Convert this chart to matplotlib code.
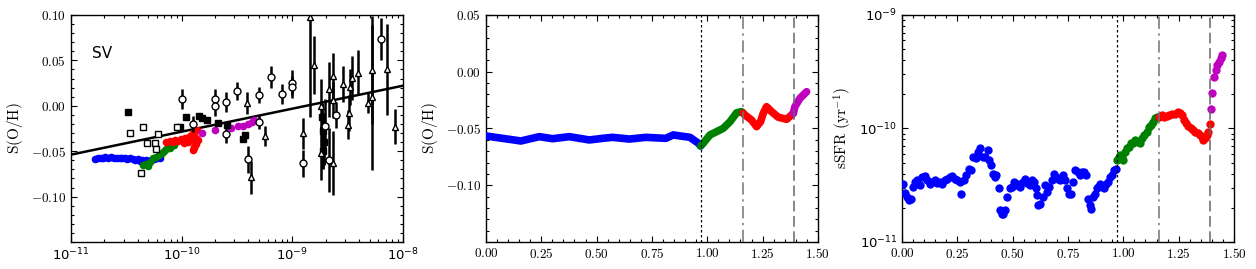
import numpy as np
import matplotlib
matplotlib.use("Agg")
import matplotlib.pyplot as plt
from matplotlib.ticker import FuncFormatter, AutoMinorLocator, LogLocator

plt.rcParams.update({
    "mathtext.fontset": "cm",
    "font.size": 9,
    "xtick.direction": "in", "ytick.direction": "in",
    "xtick.top": True, "ytick.right": True,
    "xtick.major.size": 4, "ytick.major.size": 4,
    "xtick.minor.size": 2, "ytick.minor.size": 2,
    "axes.linewidth": 1.0,
})

# ---- time track: sSFR (units of 1e-11 /yr) per phase ----
t_blue = [0.005, 0.012, 0.023, 0.032, 0.042, 0.050, 0.060, 0.069, 0.080, 0.092,
          0.102, 0.113, 0.125, 0.137, 0.147, 0.159, 0.170, 0.182, 0.192, 0.204,
          0.215, 0.227, 0.237, 0.248, 0.260, 0.268, 0.278, 0.290, 0.302, 0.313,
          0.320, 0.332, 0.343, 0.353, 0.365, 0.376, 0.388, 0.395, 0.403, 0.410,
          0.418, 0.425, 0.436, 0.443, 0.451, 0.458, 0.467, 0.475, 0.486, 0.496,
          0.505, 0.516, 0.526, 0.535, 0.546, 0.556, 0.565, 0.576, 0.586, 0.595,
          0.603, 0.610, 0.616, 0.625, 0.636, 0.646, 0.655, 0.666, 0.676, 0.685,
          0.696, 0.706, 0.715, 0.726, 0.737, 0.746, 0.753, 0.764, 0.774, 0.783,
          0.794, 0.804, 0.813, 0.821, 0.831, 0.842, 0.849, 0.854, 0.861, 0.872,
          0.879, 0.887, 0.896, 0.906, 0.914, 0.921, 0.929, 0.939, 0.948, 0.959,
          0.966]
s_blue = [3.27, 2.71, 2.49, 2.33, 2.41, 3.06, 3.38, 3.50, 3.16, 3.75,
          3.80, 3.50, 3.27, 3.38, 3.50, 3.32, 3.38, 3.27, 3.50, 3.62,
          3.75, 3.80, 3.62, 3.50, 3.38, 2.67, 3.50, 3.88, 4.44, 4.29,
          5.62, 5.44, 6.22, 6.67, 5.62, 5.62, 6.44, 5.33, 4.75, 4.01,
          3.75, 3.88, 2.96, 1.90, 1.78, 1.78, 1.90, 2.49, 2.96, 3.06,
          3.38, 3.16, 3.27, 3.06, 3.38, 3.62, 3.32, 3.16, 3.50, 3.38,
          2.96, 2.58, 2.11, 2.18, 2.49, 3.16, 2.76, 3.06, 3.50, 4.01,
          3.75, 3.62, 3.50, 3.88, 3.50, 2.96, 2.67, 2.67, 3.38, 4.29,
          4.15, 3.88, 4.15, 4.15, 3.88, 2.41, 2.11, 1.97, 2.49, 2.67,
          2.96, 3.06, 3.27, 3.06, 2.96, 3.27, 3.38, 3.75, 3.88, 4.29,
          4.44]
t_green = [0.971, 0.979, 0.985, 0.992, 1.000, 1.007, 1.015, 1.024, 1.034, 1.045,
           1.054, 1.064, 1.075, 1.084, 1.094, 1.105, 1.114, 1.124, 1.135, 1.144,
           1.154]
s_green = [5.26, 5.62, 5.82, 5.62, 5.26, 6.22, 6.67, 6.89, 7.38, 7.38,
           7.89, 7.63, 7.38, 8.17, 8.73, 9.35, 10.35, 10.7, 11.46, 12.25,
           12.68]
t_red = [1.162, 1.174, 1.184, 1.195, 1.207, 1.222, 1.234, 1.245, 1.255, 1.267,
         1.275, 1.285, 1.294, 1.305, 1.315, 1.324, 1.335, 1.345, 1.354, 1.362,
         1.369, 1.377, 1.384, 1.390]
s_red = [12.68, 13.12, 12.68, 12.85, 13.12, 13.37, 13.55, 14.03, 13.75, 13.12,
         11.86, 11.07, 10.49, 10.0, 9.66, 9.35, 9.04, 8.73, 8.44, 7.89,
         8.17, 8.73, 9.35, 10.92]
t_mag = [1.395, 1.402, 1.410, 1.417, 1.425, 1.432, 1.440, 1.447]
s_mag = [15.0, 20.4, 28.2, 32.7, 36.2, 38.7, 41.5, 44.4]

# ---- S(O/H) versus time ----
zt_blue = [0.0, 0.075, 0.158, 0.241, 0.301, 0.377, 0.467, 0.527, 0.572, 0.648,
           0.723, 0.813, 0.846, 0.922, 0.96, 0.97]
z_blue = [-0.0566, -0.0587, -0.0610, -0.0572, -0.0590, -0.0572, -0.0601, -0.0587,
          -0.0578, -0.0593, -0.0578, -0.0587, -0.0557, -0.0578, -0.0630, -0.0654]
zt_green = [0.97, 0.982, 1.012, 1.042, 1.072, 1.103, 1.133, 1.155, 1.162]
z_green = [-0.0654, -0.0630, -0.0557, -0.0528, -0.0499, -0.0440, -0.0361, -0.0352,
           -0.0365]
zt_red = [1.162, 1.17, 1.20, 1.223, 1.241, 1.253, 1.268, 1.291, 1.321, 1.359, 1.389]
z_red = [-0.0365, -0.0381, -0.0425, -0.0484, -0.0440, -0.0366, -0.0308, -0.0352,
         -0.0401, -0.0419, -0.0366]
zt_mag = [1.389, 1.396, 1.419, 1.449]
z_mag = [-0.0366, -0.0308, -0.0234, -0.0176]

# phase boundaries
t_lines = [0.97, 1.16, 1.39]

# ---- panel 1: sSFR (1e-11) vs S(O/H) for the model track ----
p1_blue_x = [1.65, 1.75, 1.85, 1.95, 2.05, 2.15, 2.3, 2.45, 2.6, 2.75, 2.9, 3.05,
             3.2, 3.4, 3.6, 3.8, 4.0, 4.2, 4.4, 4.6, 4.8, 5.0, 5.3, 5.6, 6.0, 6.4]
p1_blue_y = [-0.059, -0.058, -0.057, -0.058, -0.056, -0.057, -0.056, -0.057,
             -0.058, -0.057, -0.058, -0.057, -0.059, -0.058, -0.059, -0.060,
             -0.059, -0.061, -0.060, -0.061, -0.060, -0.061, -0.060, -0.059,
             -0.058, -0.057]
p1_green_x = [4.5, 4.8, 5.0, 5.2, 5.5, 5.9, 6.3, 6.6, 7.0, 7.3, 7.8, 8.1, 8.5]
p1_green_y = [-0.065, -0.064, -0.066, -0.062, -0.058, -0.056, -0.054, -0.052,
              -0.050, -0.048, -0.046, -0.044, -0.043]
p1_red_x = [7.3, 7.8, 8.3, 8.8, 9.3, 9.8, 10.3, 10.8, 11.3, 11.8, 12.3, 12.8,
            13.3, 13.8, 13.5, 13.2, 12.9, 12.7, 13.0, 13.6, 14.0, 11.5, 10.5, 12.0]
p1_red_y = [-0.040, -0.039, -0.040, -0.038, -0.039, -0.037, -0.038, -0.036,
            -0.035, -0.033, -0.032, -0.030, -0.028, -0.027, -0.036, -0.040,
            -0.045, -0.049, -0.047, -0.042, -0.038, -0.040, -0.041, -0.038]
p1_mag_x = [15.2, 20.0, 28.0, 32.0, 36.0, 40.0, 43.0, 45.0]
p1_mag_y = [-0.030, -0.027, -0.025, -0.022, -0.022, -0.020, -0.018, -0.016]

# ---- observations ----
fsq_x = [3.3e-11, 9.7e-11, 1.09e-10, 1.44e-10, 1.53e-10, 1.68e-10, 2.14e-10,
         2.58e-10, 3.73e-10, 3.6e-10]
fsq_y = [-0.0065, -0.023, -0.012, -0.0112, -0.0138, -0.0156, -0.0186, -0.021,
         -0.032, -0.037]
fsqe_x = [1.85e-9, 1.9e-9, 1.95e-9, 1.9e-9]
fsqe_y = [-0.012, -0.028, -0.040, -0.050]
fsqe_err = [0.015, 0.02, 0.025, 0.02]
osq_x = [3.41e-11, 4.5e-11, 4.83e-11, 4.26e-11, 5.74e-11, 5.86e-11, 6.07e-11, 9.0e-11]
osq_y = [-0.0303, -0.0237, -0.0413, -0.0744, -0.0413, -0.0476, -0.0314, -0.0237]
circ_x = [1.0e-10, 1.26e-10, 2.0e-10, 2.0e-10, 2.51e-10, 2.51e-10, 3.18e-10,
          4.0e-10, 5.0e-10, 5.0e-10, 6.37e-10, 8.0e-10, 1.0e-9, 1.0e-9, 1.26e-9,
          1.97e-9, 2.15e-9, 2.51e-9, 6.3e-9]
circ_y = [0.0071, -0.020, 0.0071, -0.0002, 0.0045, -0.031, 0.0167, -0.059, 0.0119,
          -0.018, 0.032, 0.013, 0.0254, 0.0204, -0.0633, -0.0222, -0.0597, -0.0101,
          0.0736]
circ_err = [0.011, 0.009, 0.011, 0.011, 0.011, 0.010, 0.010, 0.015, 0.009, 0.008,
            0.012, 0.011, 0.014, 0.012, 0.015, 0.030, 0.035, 0.014, 0.023]
tri_x = [3.9e-10, 4.2e-10, 5.65e-10, 1.24e-9, 1.44e-9, 1.57e-9, 1.8e-9, 1.8e-9,
         2.15e-9, 2.31e-9, 2.31e-9, 2.34e-9, 2.88e-9, 3.2e-9, 3.25e-9, 3.31e-9,
         3.43e-9, 3.94e-9, 4.85e-9, 5.3e-9, 5.3e-9, 7.2e-9, 8.45e-9]
tri_y = [0.0027, -0.0787, -0.0333, -0.0303, 0.0974, 0.045, -0.0002, -0.052,
         0.018, 0.0328, 0.0064, -0.0627, 0.024, -0.021, -0.0083, 0.021, 0.0303,
         0.0365, 0.0034, 0.0394, 0.0094, 0.040, -0.023]
tri_err = [0.012, 0.018, 0.011, 0.017, 0.11, 0.032, 0.03, 0.03, 0.03, 0.025,
           0.02, 0.035, 0.02, 0.016, 0.02, 0.02, 0.024, 0.025, 0.011, 0.06,
           0.08, 0.05, 0.019]

# linear fit S(O/H) = a + b*log10(sSFR)
fit_a = 0.2245
fit_b = 0.0253

col = {"blue": "b", "green": "g", "red": "r", "mag": "m"}

fig = plt.figure(figsize=(12.56, 2.69), dpi=100)
W, H, B = 0.2643, 0.8439, 0.1004
ax1 = fig.add_axes([0.0565, B, W, H])
ax2 = fig.add_axes([0.3869, B, W, H])
ax3 = fig.add_axes([0.7182, B, W, H])

fmt = FuncFormatter(lambda v, p: r"$%.2f$" % v if abs(v) > 1e-9 else r"$0.00$")
ylab = r"$\mathrm{S(O/H)}$"

# ---------------- panel 1 ----------------
ax1.set_xscale("log")
ax1.set_xlim(1e-11, 1e-8)
ax1.set_ylim(-0.15, 0.10)
xf = np.array([1e-11, 1e-8])
ax1.plot(xf, fit_a + fit_b * np.log10(xf), "k-", lw=1.8, zorder=2)
for xs, ys, c in [(p1_blue_x, p1_blue_y, "blue"), (p1_green_x, p1_green_y, "green"),
                  (p1_red_x, p1_red_y, "red"), (p1_mag_x, p1_mag_y, "mag")]:
    ax1.plot(np.array(xs) * 1e-11, ys, "o", color=col[c], ms=5.5, mec="none", zorder=3)
ax1.plot(fsq_x, fsq_y, "ks", ms=4, zorder=4)
ax1.errorbar(fsqe_x, fsqe_y, yerr=fsqe_err, fmt="ks", ms=4, elinewidth=2, capsize=0, zorder=4)
ax1.plot(osq_x, osq_y, "s", mfc="white", mec="k", mew=1, ms=5, zorder=4)
ax1.errorbar(circ_x, circ_y, yerr=circ_err, fmt="o", mfc="white", mec="k", mew=1,
             ms=5, ecolor="k", elinewidth=1.8, capsize=0, zorder=4)
ax1.errorbar(tri_x, tri_y, yerr=tri_err, fmt="^", mfc="white", mec="k", mew=1,
             ms=5, ecolor="k", elinewidth=1.8, capsize=0, zorder=4)
ax1.text(0.063, 0.83, "SV", transform=ax1.transAxes, fontsize=11,
         family="DejaVu Sans", va="center")
ax1.set_yticks([-0.10, -0.05, 0.0, 0.05, 0.10])
ax1.yaxis.set_major_formatter(fmt)
ax1.yaxis.set_minor_locator(AutoMinorLocator(5))
ax1.xaxis.set_minor_locator(LogLocator(subs=np.arange(2, 10)))
ax1.set_ylabel(ylab, fontsize=11)

# ---------------- panel 2 ----------------
for xs, ys, c in [(zt_blue, z_blue, "blue"), (zt_green, z_green, "green"),
                  (zt_red, z_red, "red"), (zt_mag, z_mag, "mag")]:
    ax2.plot(xs, ys, "-", color=col[c], lw=5.5, solid_capstyle="round",
             solid_joinstyle="round", zorder=3)
ax2.set_xlim(0, 1.5)
ax2.set_ylim(-0.15, 0.05)
ax2.set_yticks([-0.10, -0.05, 0.0, 0.05])
ax2.set_ylabel(ylab, fontsize=11)

# ---------------- panel 3 ----------------
for xs, ys, c in [(t_blue, s_blue, "blue"), (t_green, s_green, "green"),
                  (t_red, s_red, "red"), (t_mag, s_mag, "mag")]:
    ax3.plot(xs, np.array(ys) * 1e-11, "o", color=col[c], ms=6, mec="none", zorder=3)
ax3.set_yscale("log")
ax3.set_xlim(0, 1.5)
ax3.set_ylim(1e-11, 1e-9)
ax3.yaxis.set_minor_locator(LogLocator(subs=np.arange(2, 10)))
ax3.set_ylabel(r"$\mathrm{sSFR\ (yr^{-1})}$", fontsize=11)

for ax in (ax2, ax3):
    ax.set_xticks([0, 0.25, 0.5, 0.75, 1.0, 1.25, 1.5])
    ax.xaxis.set_major_formatter(fmt)
    ax.xaxis.set_minor_locator(AutoMinorLocator(5))
    ax.axvline(t_lines[0], color="k", ls=(0, (2, 2)), lw=0.9, zorder=4)
    ax.axvline(t_lines[1], color="0.45", ls=(0, (8, 3, 1.5, 3)), lw=1.1, zorder=4)
    ax.axvline(t_lines[2], color="0.4", ls=(0, (7, 3)), lw=1.1, zorder=4)
ax2.yaxis.set_major_formatter(fmt)
ax2.yaxis.set_minor_locator(AutoMinorLocator(5))

for ax in (ax1, ax2, ax3):
    ax.tick_params(which="both", labelsize=9.5, width=0.8)

fig.savefig("out.png", dpi=100)
